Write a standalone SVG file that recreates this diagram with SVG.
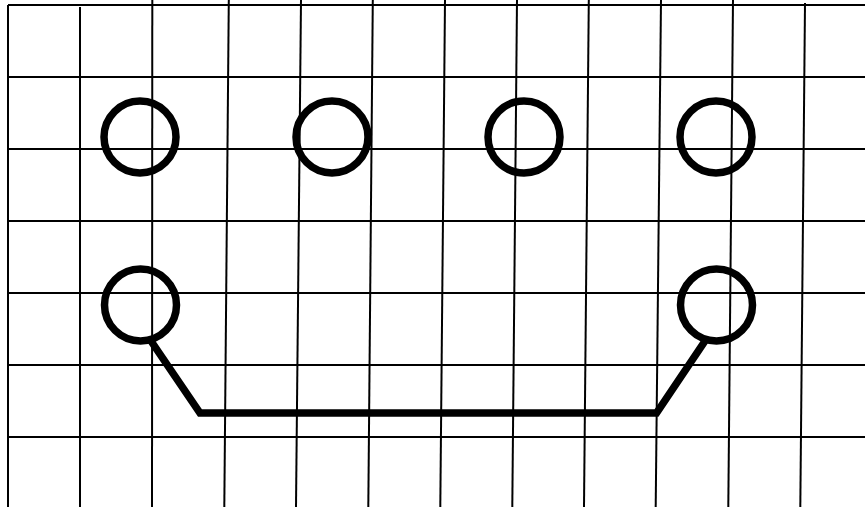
<svg xmlns="http://www.w3.org/2000/svg" width="865" height="507" viewBox="0 0 865 507">
  <style>
    .grid line { stroke: #000; stroke-width: 2; }
    .node circle { fill: none; stroke: #000; stroke-width: 7.5; }
    .conn { fill: none; stroke: #000; stroke-width: 7.5; stroke-linejoin: miter; }
  </style>
  <rect x="0" y="0" width="865" height="507" fill="#fff"/>
  <g id="grid" class="grid">
    <line x1="8" y1="5" x2="8" y2="507"/>
    <line x1="80" y1="7" x2="80" y2="507"/>
    <line x1="152.3" y1="0" x2="152" y2="507"/>
    <line x1="228.8" y1="0" x2="224.3" y2="507"/>
    <line x1="301" y1="0" x2="296" y2="507"/>
    <line x1="372.8" y1="0" x2="368.3" y2="507"/>
    <line x1="445" y1="0" x2="440.3" y2="507"/>
    <line x1="517" y1="0" x2="512.3" y2="507"/>
    <line x1="588.8" y1="0" x2="584" y2="507"/>
    <line x1="661" y1="0" x2="655.7" y2="507"/>
    <line x1="733" y1="0" x2="728.3" y2="507"/>
    <line x1="805" y1="3" x2="800.3" y2="507"/>
    <line x1="8" y1="5" x2="865" y2="5"/>
    <line x1="8" y1="77" x2="865" y2="77"/>
    <line x1="8" y1="149" x2="865" y2="149"/>
    <line x1="8" y1="221" x2="865" y2="221"/>
    <line x1="8" y1="293" x2="865" y2="293"/>
    <line x1="8" y1="365" x2="865" y2="365"/>
    <line x1="8" y1="437" x2="865" y2="437"/>
  </g>
  <g id="connectors">
    <polyline class="conn" points="151,341 200,413 656.5,413 705,341"/>
  </g>
  <g id="node-1" class="node"><circle cx="140" cy="137" r="36"/></g>
  <g id="node-2" class="node"><circle cx="332" cy="137" r="36"/></g>
  <g id="node-3" class="node"><circle cx="524" cy="137" r="36"/></g>
  <g id="node-4" class="node"><circle cx="716" cy="137" r="36"/></g>
  <g id="node-5" class="node"><circle cx="140.5" cy="305" r="36"/></g>
  <g id="node-6" class="node"><circle cx="716.5" cy="305" r="36"/></g>
</svg>
